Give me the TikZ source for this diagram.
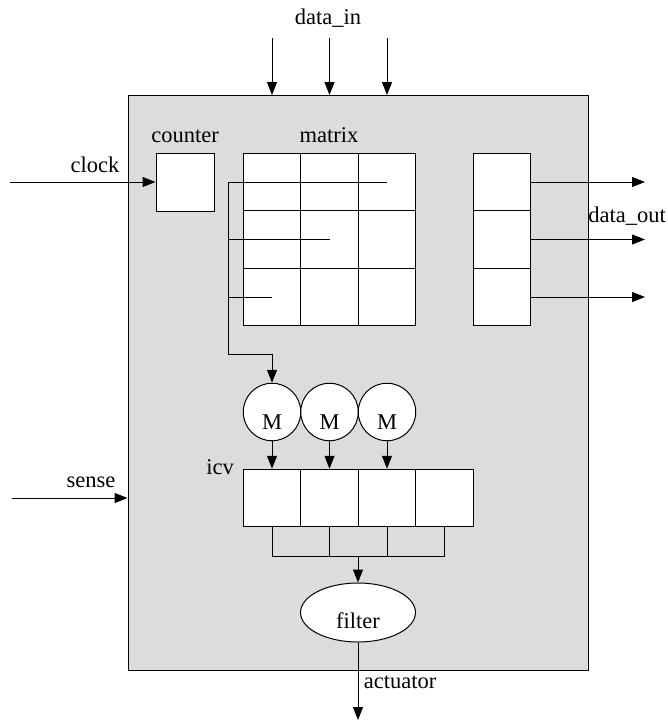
\documentclass[tikz,border=0pt]{standalone}
\usepackage{fontspec}
\setmainfont{Liberation Serif}
\usetikzlibrary{arrows.meta,shapes.geometric}
\definecolor{sysgray}{RGB}{220,220,220}
\tikzset{
  wire/.style={line width=1pt,draw=black},
  arr/.style={wire,-{Triangle[length=13pt,width=10pt]}},
  cell/.style={draw=black,line width=1pt,fill=white,inner sep=0pt,minimum width=57.5pt,minimum height=57.5pt},
  lbl/.style={inner sep=0pt,anchor=base,font=\fontsize{22.5}{26}\selectfont},
  mcirc/.style={circle,draw=black,line width=1pt,fill=white,inner sep=0pt,minimum size=57.5pt},
}
\begin{document}
\begin{tikzpicture}[x=1pt,y=-1pt]
\useasboundingbox (0,0) rectangle (667,725);
% system box
\node[draw=black,line width=1pt,fill=sysgray,inner sep=0pt,minimum width=460pt,minimum height=575pt] (sys) at (358,382.5) {};
% labels
\node[lbl] (ldin) at (328,25) {data\_in};
\node[lbl] (lcnt) at (185,142) {counter};
\node[lbl] (lmat) at (329,142) {matrix};
\node[lbl] (lclk) at (95,172) {clock};
\node[lbl] (ldout) at (627,222) {data\_out};
\node[lbl] (lsen) at (91,487) {sense};
\node[lbl] (licv) at (220,474) {icv};
\node[lbl] (lact) at (400,688) {actuator};
% counter
\node[cell,minimum width=58pt,minimum height=58pt] (cnt) at (185,182) {};
% matrix cells
\foreach \i/\x in {1/272,2/329.5,3/387}{
  \foreach \j/\y in {1/182,2/239.5,3/297}{
    \node[cell] (m\j\i) at (\x,\y) {};
  }
}
% output register
\node[cell] (o1) at (502,182) {};
\node[cell] (o2) at (502,239.5) {};
\node[cell] (o3) at (502,297) {};
% icv cells
\node[cell] (v1) at (272,498) {};
\node[cell] (v2) at (329.5,498) {};
\node[cell] (v3) at (387,498) {};
\node[cell] (v4) at (444.5,498) {};
% M circles
\node[mcirc] (c1) at (272,412) {};
\node[mcirc] (c2) at (329.5,412) {};
\node[mcirc] (c3) at (387,412) {};
\node[lbl] at (272,429) {M};
\node[lbl] at (329.5,429) {M};
\node[lbl] at (387,429) {M};
% filter
\node[ellipse,draw=black,line width=1pt,fill=white,inner sep=0pt,minimum width=115pt,minimum height=59pt] (flt) at (358,612.5) {};
\node[lbl] at (358,628) {filter};
% data_in arrows
\coordinate (di1) at (272,38);
\coordinate (di2) at (329.5,38);
\coordinate (di3) at (387,38);
\draw[arr] (di1) -- (272,95);
\draw[arr] (di2) -- (329.5,95);
\draw[arr] (di3) -- (387,95);
% clock
\coordinate (clk) at (10,182);
\draw[arr] (clk) -- (cnt.west);
% sense
\coordinate (sen) at (12,498);
\draw[arr] (sen) -- (sen -| sys.west);
% data_out arrows
\coordinate (do1) at (645,182);
\coordinate (do2) at (645,239.5);
\coordinate (do3) at (645,297);
\draw[arr] (o1.east) -- (do1);
\draw[arr] (o2.east) -- (do2);
\draw[arr] (o3.east) -- (do3);
% matrix feed lines
\coordinate (fb) at (228,182);
\coordinate (fm) at (228,239.5);
\coordinate (fl) at (228,297);
\coordinate (fe) at (228,354);
\draw[wire] (387,182) -- (fb) -- (fe) -- (272,354);
\draw[arr] (272,354) -- (c1.north);
\draw[wire] (329.5,239.5) -- (fm);
\draw[wire] (272,297) -- (fl);
% M to icv
\draw[arr] (c1.south) -- (v1.north);
\draw[arr] (c2.south) -- (v2.north);
\draw[arr] (c3.south) -- (v3.north);
% icv combine
\coordinate (cb) at (358,556);
\draw[wire] (v1.south) -- (272,556) -- (444.5,556) -- (v4.south);
\draw[wire] (v2.south) -- (329.5,556);
\draw[wire] (v3.south) -- (387,556);
\draw[arr] (cb) -- (flt.north);
% actuator
\coordinate (act) at (358,720);
\draw[arr] (flt.south) -- (act);
\end{tikzpicture}
\end{document}
